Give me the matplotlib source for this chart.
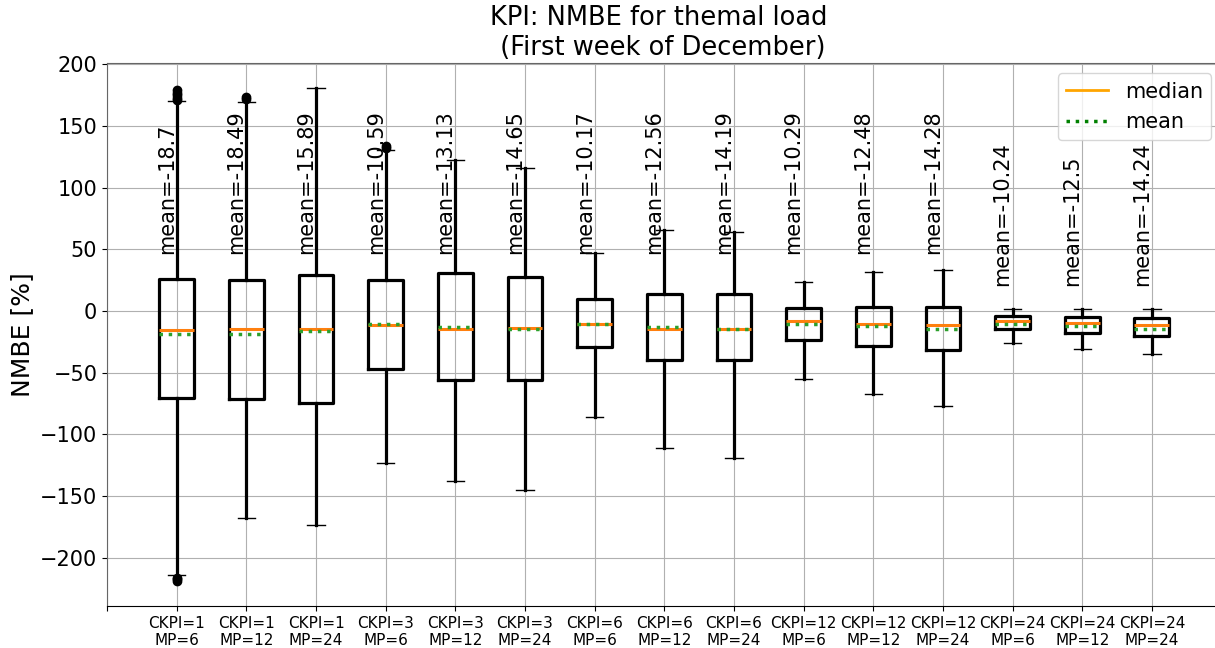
import matplotlib
matplotlib.use("Agg")
import matplotlib.pyplot as plt
from matplotlib.lines import Line2D

# NMBE (%) do consumo termico por combinacao CKPI / MP
ckpi = [1, 1, 1, 3, 3, 3, 6, 6, 6, 12, 12, 12, 24, 24, 24]
mp = [6, 12, 24, 6, 12, 24, 6, 12, 24, 6, 12, 24, 6, 12, 24]

whislo = [-213.9, -167.5, -173.4, -123.4, -137.5, -144.8, -85.9, -111.3,
          -119.1, -55.3, -67.5, -77.2, -25.6, -31.0, -35.1]
q1 = [-70.2, -71.6, -74.3, -46.7, -55.6, -55.6, -29.2, -39.4, -40.0,
      -23.2, -28.6, -31.8, -14.8, -17.5, -20.3]
med = [-15.6, -14.8, -14.3, -11.6, -14.3, -13.8, -10.2, -14.3, -14.3,
       -8.1, -10.2, -11.0, -8.1, -9.7, -11.0]
q3 = [26.3, 25.4, 28.9, 24.9, 30.8, 27.6, 10.0, 14.1, 14.1, 2.5, 3.0, 3.2,
      -4.0, -5.1, -5.7]
whishi = [169.9, 169.6, 181.0, 130.8, 122.7, 115.9, 47.3, 66.0, 64.0,
          23.5, 31.6, 33.0, 1.4, 1.6, 1.6]
means = [-18.7, -18.49, -15.89, -10.59, -13.13, -14.65, -10.17, -12.56,
         -14.19, -10.29, -12.48, -14.28, -10.24, -12.5, -14.24]
fliers = [[171, 173, 175, 177, 179.5, -216, -217.5, -219], [172, 173.5], [],
          [132.5, 134], [], [], [], [], [], [], [], [], [], [], []]

labels = ["CKPI=%d\nMP=%d" % (c, m) for c, m in zip(ckpi, mp)]

stats = []
for i in range(len(labels)):
    stats.append(dict(whislo=whislo[i], q1=q1[i], med=med[i], mean=means[i],
                      q3=q3[i], whishi=whishi[i], fliers=fliers[i]))

fig = plt.figure(figsize=(12.15, 6.48), dpi=100)
ax = fig.add_axes([0.0881, 0.0648, 0.9173, 0.838])

pos = list(range(1, len(labels) + 1))
ax.bxp(stats, positions=pos, widths=0.5, showmeans=True, meanline=True,
       boxprops=dict(color="black", linewidth=2.3),
       whiskerprops=dict(color="black", linewidth=2.3),
       capprops=dict(color="black", linewidth=1.0),
       medianprops=dict(color="C1", linewidth=2.2),
       meanprops=dict(color="C2", linestyle=":", linewidth=2.5),
       flierprops=dict(marker="o", markerfacecolor="black",
                       markeredgecolor="black", markersize=6))

# rotulo com a media acima de cada caixa
for p, c, m in zip(pos, ckpi, means):
    y = 46.5 if c < 24 else 20.5
    ax.text(p, y, "mean=%s" % m, rotation=90, ha="right", va="bottom",
            fontsize=15)

ax.set_xlim(0, 16)
ax.set_xticks(range(0, 16))
ax.set_xticklabels([""] + labels, fontsize=11)
ax.tick_params(axis="y", labelsize=15)
ax.set_ylabel("NMBE [%]", fontsize=18)
ax.set_title("KPI: NMBE for themal load\n (First week of December)",
             fontsize=18.5, x=0.4946)
ax.grid(True)
for side in ("left", "top"):
    ax.spines[side].set_color("0.4")

handles = [Line2D([], [], color="orange", linewidth=2),
           Line2D([], [], color="green", linestyle=":", linewidth=2.5)]
ax.legend(handles, ["median", "mean"], loc="upper right", fontsize=15)

fig.savefig("out.png", dpi=100)
